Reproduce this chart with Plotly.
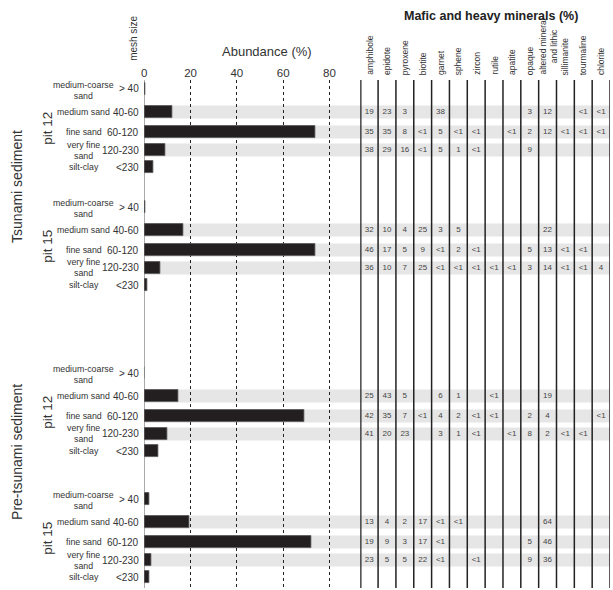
import plotly.graph_objects as go

W, H = 613, 590
FONT = "Arial, Liberation Sans, sans-serif"
TXT = "#333333"

# ---------------- data ----------------
size_classes = ["medium-coarse<br>sand", "medium sand", "fine sand", "very fine<br>sand", "silt-clay"]
mesh_sizes = ["> 40", "40-60", "60-120", "120-230", "<230"]
sediment_types = ["Tsunami sediment", "Pre-tsunami sediment"]
pit_names = ["pit 12", "pit 15", "pit 12", "pit 15"]
minerals = ["amphibole", "epidote", "pyroxene", "biotite", "garnet", "sphene", "zircon",
            "rutile", "apatite", "opaque", "altered mineral<br>and lithic", "sillimanite",
            "tourmaline", "chlorite"]

abund_tsu_pit12 = [0.5, 12, 74, 9, 4]
abund_tsu_pit15 = [0.5, 17, 74, 7, 1.5]
abund_pre_pit12 = [0.2, 14.5, 69, 10, 6]
abund_pre_pit15 = [2.3, 19.5, 72.3, 2.9, 2.3]

# mineral tables for size classes: medium sand, fine sand, very fine sand
min_tsu_pit12 = [
    ["19", "23", "3", "", "38", "", "", "", "", "3", "12", "", "<1", "<1"],
    ["35", "35", "8", "<1", "5", "<1", "<1", "", "<1", "2", "12", "<1", "<1", "<1"],
    ["38", "29", "16", "<1", "5", "1", "<1", "", "", "9", "", "", "", ""],
]
min_tsu_pit15 = [
    ["32", "10", "4", "25", "3", "5", "", "", "", "", "22", "", "", ""],
    ["46", "17", "5", "9", "<1", "2", "<1", "", "", "5", "13", "<1", "<1", ""],
    ["36", "10", "7", "25", "<1", "<1", "<1", "<1", "<1", "3", "14", "<1", "<1", "4"],
]
min_pre_pit12 = [
    ["25", "43", "5", "", "6", "1", "", "<1", "", "", "19", "", "", ""],
    ["42", "35", "7", "<1", "4", "2", "<1", "<1", "", "2", "4", "", "", "<1"],
    ["41", "20", "23", "", "3", "1", "<1", "", "<1", "8", "2", "<1", "<1", ""],
]
min_pre_pit15 = [
    ["13", "4", "2", "17", "<1", "<1", "", "", "", "", "64", "", "", ""],
    ["19", "9", "3", "17", "<1", "", "", "", "", "5", "46", "", "", ""],
    ["23", "5", "5", "22", "<1", "", "<1", "", "", "9", "36", "", "", ""],
]
table_rows = [1, 2, 3]  # size classes that have mineral counts

abund_groups = [abund_tsu_pit12, abund_tsu_pit15, abund_pre_pit12, abund_pre_pit15]
mineral_groups = [min_tsu_pit12, min_tsu_pit15, min_pre_pit12, min_pre_pit15]

# ---------------- layout helpers ----------------
group_top = [89, 207, 373, 499]
row_offsets = [0, 23, 43, 61, 78]
Y_TOP, Y_BOT = 80, 588
X0, X_TAB0, X_TAB1 = 142, 359, 610
PX_PER_PCT = 2.325


def px(x):
    return x / W


def py(y):
    return 1 - y / H


fig = go.Figure()

shapes = []
annotations = []

bar_y, bar_x = [], []
txt_x, txt_y, txt_t = [], [], []
for g, (ab, mins) in enumerate(zip(abund_groups, mineral_groups)):
    rows_y = [group_top[g] + o for o in row_offsets]
    bar_y += rows_y
    bar_x += ab
    for k, r in enumerate(table_rows):
        yy = rows_y[r]
        shapes.append(dict(type="rect", xref="paper", yref="y", x0=px(X0), x1=px(X_TAB1),
                           y0=yy - 6.5, y1=yy + 6.5, fillcolor="#e6e6e6",
                           line=dict(width=0), layer="below"))
        for c, v in enumerate(mins[k]):
            if v:
                txt_x.append(c + 0.5)
                txt_y.append(yy)
                txt_t.append(v)
    for r in range(len(size_classes)):
        annotations.append(dict(x=px(81), y=py(rows_y[r] + (1 if r == 0 else 0)), xref="paper", yref="paper",
                                text=size_classes[r], showarrow=False, xanchor="center",
                                yanchor="middle", font=dict(size=8.8, color=TXT, family=FONT)))
        annotations.append(dict(x=px(139), y=py(rows_y[r]), xref="paper", yref="paper",
                                text=mesh_sizes[r], showarrow=False, xanchor="right",
                                yanchor="middle", font=dict(size=10, color=TXT, family=FONT)))
    annotations.append(dict(x=px(44), y=py(group_top[g] + 39), xref="paper", yref="paper",
                            text=pit_names[g], showarrow=False, textangle=-90,
                            xanchor="center", yanchor="middle",
                            font=dict(size=13.5, color=TXT, family=FONT)))

fig.add_trace(go.Bar(x=bar_x, y=bar_y, orientation="h", width=12,
                     marker=dict(color="#231f20", line=dict(color="#555555", width=0.8)),
                     xaxis="x", yaxis="y", hoverinfo="x"))

fig.add_trace(go.Scatter(x=txt_x, y=txt_y, text=txt_t, mode="text", xaxis="x2", yaxis="y",
                         textfont=dict(size=8, color="#444444", family=FONT),
                         cliponaxis=False, hoverinfo="text"))

# table column lines
for i in range(len(minerals) + 1):
    shapes.append(dict(type="line", xref="x2", yref="paper", x0=i, x1=i,
                       y0=py(Y_BOT), y1=py(Y_TOP),
                       line=dict(color="#222222", width=2.5 if i == 0 else 1.5), layer="above"))

# mineral headers
for i, m in enumerate(minerals):
    annotations.append(dict(x=i + 0.5, y=py(77), xref="x2", yref="paper", text=m,
                            showarrow=False, textangle=-90, xanchor="center", yanchor="bottom",
                            font=dict(size=8.5, color=TXT, family=FONT)))

annotations += [
    dict(x=px(490), y=py(16), xref="paper", yref="paper", text="<b>Mafic and heavy minerals (%)</b>",
         showarrow=False, xanchor="center", yanchor="middle",
         font=dict(size=12.5, color="#222222", family=FONT)),
    dict(x=px(265), y=py(52), xref="paper", yref="paper", text="Abundance (%)",
         showarrow=False, xanchor="center", yanchor="middle",
         font=dict(size=13, color=TXT, family=FONT)),
    dict(x=px(131), y=py(63), xref="paper", yref="paper", text="mesh size",
         showarrow=False, textangle=-90, xanchor="center", yanchor="bottom",
         font=dict(size=10, color=TXT, family=FONT)),
    dict(x=px(14), y=py(186), xref="paper", yref="paper", text=sediment_types[0],
         showarrow=False, textangle=-90, xanchor="center", yanchor="middle",
         font=dict(size=14, color=TXT, family=FONT)),
    dict(x=px(14), y=py(452), xref="paper", yref="paper", text=sediment_types[1],
         showarrow=False, textangle=-90, xanchor="center", yanchor="middle",
         font=dict(size=14, color=TXT, family=FONT)),
]

fig.update_layout(
    width=W, height=H,
    margin=dict(l=0, r=0, t=0, b=0, pad=0),
    paper_bgcolor="white", plot_bgcolor="rgba(0,0,0,0)",
    showlegend=False,
    bargap=0,
    xaxis=dict(domain=[px(X0), px(X_TAB0)], range=[0, (X_TAB0 - X0) / PX_PER_PCT],
               side="top", anchor="y", tickvals=[0, 20, 40, 60, 80], ticks="",
               tickfont=dict(size=11.5, color=TXT, family=FONT),
               showgrid=True, gridcolor="#222222", griddash="dot", gridwidth=1,
               zeroline=True, zerolinecolor="#aaaaaa", zerolinewidth=1, showline=False),
    xaxis2=dict(domain=[px(X_TAB0), px(X_TAB1)], range=[0, len(minerals)], anchor="y",
                visible=False, showgrid=False, zeroline=False),
    yaxis=dict(domain=[py(Y_BOT), py(Y_TOP)], range=[Y_BOT, Y_TOP], visible=False,
               showgrid=False, zeroline=False),
    shapes=shapes,
    annotations=annotations,
)

fig.write_html("out.html", config={"displayModeBar": False},
               post_script="document.body.style.margin='0';document.body.style.overflow='hidden';")
